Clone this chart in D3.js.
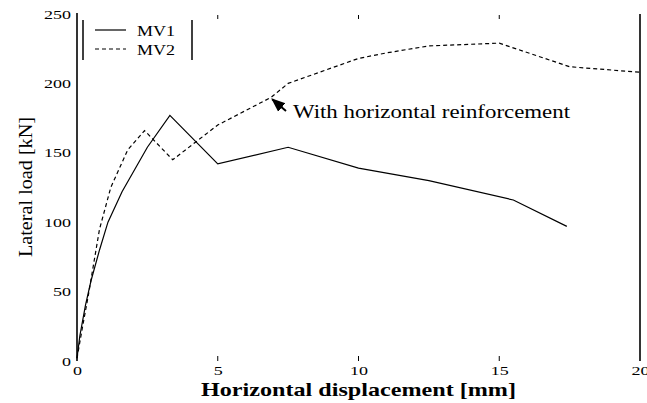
<!DOCTYPE html>
<html>
<head>
<meta charset="utf-8">
<script src="https://cdn.jsdelivr.net/npm/d3@7"></script>
<style>
  body { margin: 0; background: #fff; }
  svg { display: block; }
  text { font-family: 'Liberation Serif', 'DejaVu Serif', serif; fill: #000; }
</style>
</head>
<body>
<svg id="container" width="647" height="403"></svg>
<script>
// displacement [mm], lateral load [kN]
const mv1Disp = [0, 0.1, 0.3, 0.5, 0.8, 1.1, 1.6, 2.5, 3.3, 5.0, 7.5, 10, 12.5, 15.5, 17.4]
const mv1Load = [2, 18, 40, 58, 80, 100, 122, 154, 177, 142, 154, 139, 130, 116, 97]
const mv2Disp = [0, 0.2, 0.4, 0.8, 1.2, 1.8, 2.4, 3.4, 5.0, 6.9, 7.5, 10, 11, 12.5, 15, 17.5, 20]
const mv2Load = [2, 25, 47, 95, 125, 152, 166, 145, 170, 190, 200, 218, 222, 227, 229, 212, 208]
const xTicks = [0, 5, 10, 15, 20]
const yTicks = [0, 50, 100, 150, 200, 250]
const seriesNames = ['MV1', 'MV2']

const svg = d3.select('#container')

const x = d3.scaleLinear().domain([0, 20]).range([77, 640])
const y = d3.scaleLinear().domain([0, 250]).range([361, 14])

const mv1 = mv1Disp.map((d, i) => [d, mv1Load[i]])
const mv2 = mv2Disp.map((d, i) => [d, mv2Load[i]])

const line = d3.line().x((d) => x(d[0])).y((d) => y(d[1]))

// frame: left axis and right border
svg.append('line')
  .attr('x1', x(0)).attr('x2', x(0))
  .attr('y1', y(250) - 1).attr('y2', y(0))
  .attr('stroke', '#000').attr('stroke-width', 1.6)
svg.append('line')
  .attr('x1', x(20)).attr('x2', x(20))
  .attr('y1', y(250)).attr('y2', y(0))
  .attr('stroke', '#000').attr('stroke-width', 1.6)

// small inside ticks at top and bottom
const innerTicks = xTicks.filter((d) => d > 0 && d < 20)
svg.selectAll('line.tickB')
  .data(innerTicks)
  .enter()
  .append('line')
  .attr('class', 'tickB')
  .attr('x1', (d) => x(d)).attr('x2', (d) => x(d))
  .attr('y1', y(0) - 5).attr('y2', y(0))
  .attr('stroke', '#000').attr('stroke-width', 1)
svg.selectAll('line.tickT')
  .data(innerTicks)
  .enter()
  .append('line')
  .attr('class', 'tickT')
  .attr('x1', (d) => x(d)).attr('x2', (d) => x(d))
  .attr('y1', y(250) + 1).attr('y2', y(250) + 5)
  .attr('stroke', '#000').attr('stroke-width', 1)

// tick labels through d3 axes (the digits are drawn wide, like the scan)
const xAxis = svg.append('g')
  .attr('transform', `translate(0, ${y(0) + 6})`)
  .call(d3.axisBottom(x).tickValues(xTicks).tickSize(0).tickPadding(0))
xAxis.select('.domain').remove()
xAxis.selectAll('text')
  .attr('y', 8).attr('dy', null)
  .attr('textLength', (d) => String(d).length * 9)
  .attr('lengthAdjust', 'spacingAndGlyphs')
  .style('font-family', "'Liberation Serif', serif")
  .style('font-size', '13px')

const yAxis = svg.append('g')
  .attr('transform', `translate(${x(0) - 6}, 0)`)
  .call(d3.axisLeft(y).tickValues(yTicks).tickSize(0).tickPadding(0))
yAxis.select('.domain').remove()
yAxis.selectAll('text')
  .attr('textLength', (d) => String(d).length * 9)
  .attr('lengthAdjust', 'spacingAndGlyphs')
  .style('font-family', "'Liberation Serif', serif")
  .style('font-size', '13px')

// curves
svg.append('path')
  .datum(mv1)
  .attr('d', line)
  .attr('fill', 'none')
  .attr('stroke', '#000')
  .attr('stroke-width', 1.2)
svg.append('path')
  .datum(mv2)
  .attr('d', line)
  .attr('fill', 'none')
  .attr('stroke', '#000')
  .attr('stroke-width', 1.2)
  .attr('stroke-dasharray', '4,3')

// legend
const lg = svg.append('g')
lg.append('line').attr('x1', 83).attr('x2', 83).attr('y1', 20).attr('y2', 60)
  .attr('stroke', '#000').attr('stroke-width', 1.5)
lg.append('line').attr('x1', 192).attr('x2', 192).attr('y1', 20).attr('y2', 60)
  .attr('stroke', '#000').attr('stroke-width', 1.5)
seriesNames.forEach((name, i) => {
  const yy = 30 + i * 19
  lg.append('line')
    .attr('x1', 95).attr('x2', 126).attr('y1', yy).attr('y2', yy)
    .attr('stroke', '#000').attr('stroke-width', 1.2)
    .attr('stroke-dasharray', i === 1 ? '4,3' : null)
  lg.append('text')
    .attr('x', 137).attr('y', yy + 6)
    .attr('textLength', 38).attr('lengthAdjust', 'spacingAndGlyphs')
    .style('font-size', '15px')
    .text(name)
})

// annotation with arrow
svg.append('defs').append('marker')
  .attr('id', 'head')
  .attr('viewBox', '0 0 10 10')
  .attr('refX', 9).attr('refY', 5)
  .attr('markerWidth', 7).attr('markerHeight', 7)
  .attr('orient', 'auto')
  .append('path')
  .attr('d', 'M0,1 L10,5 L0,9 Z')
  .attr('fill', '#000')
svg.append('line')
  .attr('x1', 286).attr('y1', 111)
  .attr('x2', x(6.9) + 1).attr('y2', y(190) + 2)
  .attr('stroke', '#000').attr('stroke-width', 2)
  .attr('marker-end', 'url(#head)')
svg.append('text')
  .attr('x', 293).attr('y', 118)
  .attr('textLength', 277).attr('lengthAdjust', 'spacingAndGlyphs')
  .style('font-size', '18px')
  .text('With horizontal reinforcement')

// axis titles
svg.append('text')
  .attr('x', (x(0) + x(20)) / 2).attr('y', 396)
  .attr('text-anchor', 'middle')
  .attr('textLength', 315).attr('lengthAdjust', 'spacingAndGlyphs')
  .style('font-size', '19px').style('font-weight', 'bold')
  .text('Horizontal displacement [mm]')
svg.append('text')
  .attr('transform', 'translate(32, 187) rotate(-90)')
  .attr('text-anchor', 'middle')
  .attr('textLength', 140).attr('lengthAdjust', 'spacingAndGlyphs')
  .style('font-size', '19px')
  .text('Lateral load [kN]')
</script>
</body>
</html>
